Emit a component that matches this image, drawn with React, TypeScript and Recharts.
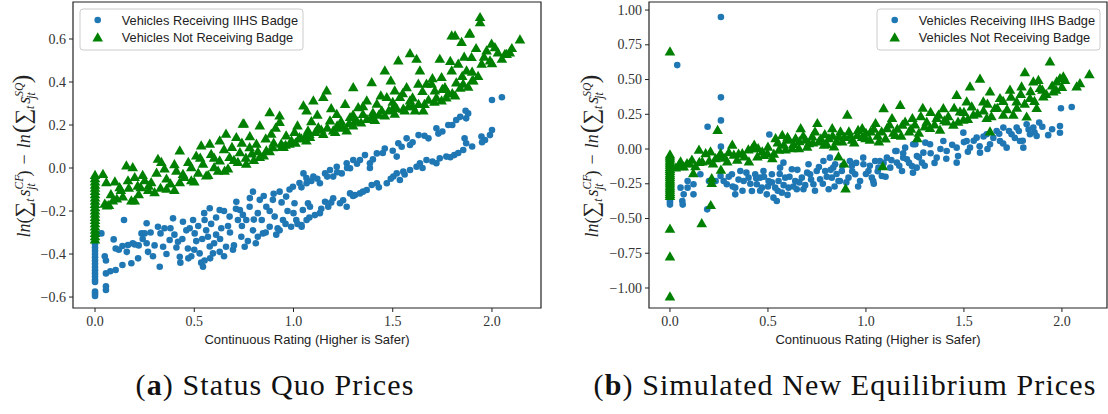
import React from 'react';
import { ScatterChart, Scatter, XAxis, YAxis, ReferenceArea } from 'recharts';

type Pt = [number, number];

const BLUE = '#1f77b4';
const GREEN = '#008000';

const X_TICKS = [0, 0.5, 1, 1.5, 2];
const LEFT_Y_TICKS = [-0.6, -0.4, -0.2, 0, 0.2, 0.4, 0.6];
const RIGHT_Y_TICKS = [-1, -0.75, -0.5, -0.25, 0, 0.25, 0.5, 0.75, 1];

const SERIES_NAMES = ['Vehicles Receiving IIHS Badge', 'Vehicles Not Receiving Badge'];
const X_LABEL = 'Continuous Rating (Higher is Safer)';

// (a) status quo prices
const LEFT_BADGE: Pt[] = [
  [0, -0.33], [0, -0.34], [0, -0.355], [0, -0.37], [0, -0.385], [0, -0.4], [0, -0.415], [0, -0.43], [0, -0.445],
  [0, -0.46], [0, -0.475], [0, -0.49], [0, -0.505], [0, -0.52], [0, -0.53], [0, -0.575], [0, -0.585], [0, -0.595],
  [0.032, -0.304], [0.049, -0.41], [0.055, -0.43], [0.055, -0.49], [0.077, -0.48], [0.104, -0.474], [0.055, -0.567],
  [0.055, -0.55], [0.094, -0.332], [0.104, -0.374], [0.146, -0.242], [0.138, -0.363], [0.138, -0.451], [0.166, -0.358],
  [0.183, -0.443], [0.19, -0.35], [0.2, -0.356], [0.217, -0.42], [0.234, -0.304], [0.25, -0.304], [0.26, -0.257],
  [0.26, -0.35], [0.267, -0.39], [0.292, -0.41], [0.317, -0.273], [0.326, -0.459], [0.33, -0.304], [0.343, -0.366],
  [0.35, -0.28], [0.376, -0.335], [0.393, -0.234], [0.418, -0.343], [0.427, -0.413], [0.43, -0.44], [0.443, -0.25],
  [0.468, -0.374], [0.477, -0.28], [0.485, -0.41], [0.494, -0.242], [0.502, -0.304], [0.51, -0.34], [0.527, -0.397],
  [0.535, -0.44], [0.544, -0.459], [0.552, -0.43], [0.552, -0.242], [0.56, -0.29], [0.569, -0.32], [0.578, -0.187],
  [0.578, -0.365], [0.585, -0.26], [0.594, -0.397], [0.61, -0.31], [0.628, -0.195], [0.628, -0.39], [0.636, -0.28],
  [0.66, -0.366], [0.67, -0.27], [0.678, -0.226], [0.695, -0.38], [0.712, -0.157], [0.72, -0.242], [0.73, -0.195],
  [0.737, -0.32], [0.745, -0.218], [0.754, -0.366], [0.762, -0.242], [0.779, -0.18], [0.796, -0.11], [0.796, -0.29],
  [0.81, -0.35], [0.82, -0.21], [0.83, -0.148], [0.84, -0.242], [0.846, -0.304], [0.863, -0.18], [0.88, -0.273],
  [0.896, -0.148], [0.905, -0.226], [0.913, -0.31], [0.93, -0.11], [0.93, -0.29], [0.947, -0.242], [0.963, -0.133],
  [0.97, -0.2], [0.988, -0.273], [0.997, -0.087], [1.005, -0.164], [1.014, -0.242], [1.03, -0.07], [1.04, -0.265],
  [1.047, -0.195], [1.065, -0.047], [1.073, -0.164],
  [0.12, -0.38], [0.16, -0.39], [0.22, -0.36], [0.24, -0.33], [0.28, -0.3], [0.3, -0.36], [0.36, -0.4], [0.38, -0.28],
  [0.4, -0.31], [0.41, -0.37], [0.44, -0.33], [0.46, -0.29], [0.47, -0.42], [0.5, -0.38], [0.52, -0.27], [0.54, -0.33],
  [0.55, -0.21], [0.58, -0.42], [0.6, -0.35], [0.61, -0.23], [0.63, -0.33], [0.65, -0.2], [0.65, -0.41], [0.68, -0.3],
  [0.7, -0.36], [0.71, -0.19], [0.74, -0.27], [0.77, -0.34], [0.78, -0.14], [0.8, -0.24], [0.82, -0.32], [0.85, -0.13],
  [0.86, -0.3], [0.88, -0.2], [0.9, -0.12], [0.92, -0.28], [0.94, -0.16], [0.96, -0.26], [0.98, -0.1], [1.0, -0.21],
  [1.02, -0.26], [1.04, -0.09],
  [1.05, -0.025], [1.066, -0.071], [1.1, -0.04], [1.133, -0.071], [1.159, -0.025], [1.184, -0.009], [1.2, -0.04],
  [1.218, 0.006], [1.243, -0.025], [1.268, 0.022], [1.285, -0.001], [1.301, 0.037], [1.335, 0.037], [1.36, 0.06],
  [1.385, 0.022], [1.385, 0.0], [1.42, 0.068], [1.46, 0.091], [1.52, 0.053], [1.528, 0.115], [1.545, 0.099],
  [1.57, 0.138], [1.587, 0.107], [1.63, 0.153], [1.68, 0.138], [1.72, 0.185], [1.73, 0.16], [1.78, 0.2],
  [1.82, 0.223], [1.84, 0.238], [1.87, 0.231], [1.88, 0.254], [1.867, 0.266], [2.0, 0.316], [2.05, 0.329],
  [1.09, -0.06], [1.12, -0.05], [1.17, -0.04], [1.22, -0.02], [1.27, 0.0], [1.32, 0.02], [1.4, 0.04], [1.45, 0.07],
  [1.5, 0.08], [1.6, 0.12], [1.66, 0.15], [1.75, 0.17], [1.8, 0.2],
  [1.041, -0.273], [1.066, -0.242], [1.083, -0.18], [1.108, -0.219], [1.133, -0.21], [1.159, -0.157], [1.175, -0.18],
  [1.2, -0.141], [1.234, -0.164], [1.268, -0.18], [1.285, -0.118], [1.31, -0.126], [1.335, -0.118], [1.369, -0.102],
  [1.394, -0.079], [1.42, -0.071], [1.47, -0.071], [1.503, -0.04], [1.52, -0.025], [1.536, -0.056], [1.553, -0.017],
  [1.587, -0.009], [1.62, 0.006], [1.637, 0.022], [1.67, 0.037], [1.72, 0.022], [1.737, 0.045], [1.77, 0.053],
  [1.81, 0.06], [1.855, 0.084], [1.87, 0.115], [1.862, 0.138], [1.947, 0.146], [1.965, 0.13], [1.99, 0.153], [2.0, 0.177],
  [1.08, -0.23], [1.14, -0.19], [1.19, -0.16], [1.25, -0.15], [1.3, -0.13], [1.35, -0.11], [1.43, -0.09], [1.49, -0.05],
  [1.56, -0.03], [1.65, 0.0], [1.7, 0.03], [1.79, 0.05], [1.83, 0.07], [1.9, 0.1], [1.95, 0.12],
];

const LEFT_NO_BADGE: Pt[] = [
  [0, -0.33], [0, -0.315], [0, -0.3], [0, -0.285], [0, -0.27], [0, -0.255], [0, -0.24], [0, -0.225], [0, -0.21],
  [0, -0.195], [0, -0.18], [0, -0.165], [0, -0.15], [0, -0.135], [0, -0.12], [0, -0.105], [0, -0.09], [0, -0.075],
  [0, -0.06], [0, -0.045], [0, -0.03],
  [0.04, -0.025], [0.057, -0.064], [0.049, -0.164], [0.07, -0.17], [0.09, -0.149], [0.11, -0.14], [0.124, -0.087],
  [0.13, -0.1], [0.158, 0.014], [0.166, -0.055], [0.183, -0.149], [0.19, 0.006], [0.2, -0.04], [0.215, -0.08],
  [0.23, -0.087], [0.25, -0.055], [0.268, -0.1], [0.283, -0.064], [0.317, 0.045], [0.334, 0.03], [0.35, 0.0],
  [0.36, -0.047], [0.36, -0.094], [0.41, -0.01], [0.427, 0.084], [0.427, -0.064], [0.443, -0.025], [0.485, 0.006],
  [0.485, -0.055], [0.51, 0.06], [0.535, 0.107], [0.544, 0.022], [0.56, -0.033], [0.578, 0.115], [0.585, 0.068],
  [0.6, 0.006], [0.628, 0.13], [0.628, 0.037], [0.653, -0.01], [0.66, 0.162], [0.678, 0.053], [0.712, 0.146],
  [0.73, 0.076], [0.745, 0.208], [0.762, 0.022], [0.779, 0.099], [0.813, 0.115], [0.83, 0.053], [0.83, 0.2],
  [0.863, 0.084], [0.888, 0.162], [0.896, 0.099], [0.93, 0.216], [0.938, 0.115], [0.963, 0.154], [0.98, 0.115],
  [1.005, 0.17], [1.03, 0.146], [1.065, 0.13], [1.073, 0.177], [0.88, 0.262], [0.75, 0.209], [0.93, 0.246],
  [0.06, -0.172], [0.2, -0.149], [0.7, 0.04], [0.79, 0.07], [0.95, 0.1],
  [0.08, -0.12], [0.1, -0.06], [0.14, -0.13], [0.17, -0.09], [0.22, -0.12], [0.24, -0.03], [0.27, -0.08], [0.3, -0.11],
  [0.31, -0.02], [0.33, -0.09], [0.38, -0.07], [0.4, -0.1], [0.4, 0.02], [0.45, -0.04], [0.47, 0.03], [0.5, -0.06],
  [0.52, -0.02], [0.53, 0.05], [0.57, -0.03], [0.6, 0.05], [0.62, -0.01], [0.65, 0.09], [0.67, 0.0], [0.69, 0.1],
  [0.72, 0.03], [0.74, 0.12], [0.76, 0.05], [0.78, 0.15], [0.8, 0.04], [0.82, 0.08], [0.85, 0.06], [0.86, 0.14],
  [0.88, 0.08], [0.9, 0.12], [0.91, 0.19], [0.94, 0.1], [0.96, 0.11], [0.99, 0.13], [1.01, 0.12], [1.02, 0.2],
  [1.04, 0.14], [1.06, 0.15], [1.08, 0.16], [1.09, 0.22], [1.11, 0.17], [1.12, 0.25], [1.14, 0.18], [1.17, 0.19],
  [1.19, 0.28], [1.22, 0.2], [1.24, 0.22], [1.26, 0.3], [1.28, 0.21], [1.3, 0.25], [1.32, 0.22], [1.35, 0.29],
  [1.37, 0.23], [1.4, 0.26], [1.43, 0.25], [1.44, 0.34], [1.48, 0.27], [1.5, 0.31], [1.52, 0.28], [1.55, 0.35],
  [1.58, 0.29], [1.6, 0.33], [1.63, 0.3], [1.65, 0.36], [1.68, 0.32], [1.7, 0.42], [1.72, 0.33], [1.75, 0.37],
  [1.78, 0.35], [1.79, 0.5], [1.82, 0.4], [1.85, 0.43], [1.86, 0.52], [1.88, 0.38], [1.9, 0.45], [1.92, 0.56],
  [1.93, 0.43], [1.96, 0.52], [2.0, 0.49], [2.03, 0.54], [2.05, 0.51], [2.1, 0.56],
  [1.05, 0.293], [1.066, 0.27], [1.083, 0.146], [1.1, 0.316], [1.125, 0.192], [1.15, 0.332], [1.167, 0.363],
  [1.184, 0.223], [1.2, 0.177], [1.218, 0.254], [1.234, 0.192], [1.268, 0.177], [1.285, 0.239], [1.301, 0.378],
  [1.31, 0.223], [1.326, 0.285], [1.35, 0.254], [1.369, 0.316], [1.394, 0.401], [1.394, 0.239], [1.42, 0.301],
  [1.445, 0.27], [1.46, 0.456], [1.47, 0.332], [1.49, 0.409], [1.503, 0.285], [1.51, 0.363], [1.528, 0.502],
  [1.536, 0.332], [1.553, 0.278], [1.57, 0.378], [1.587, 0.536], [1.587, 0.316], [1.612, 0.27], [1.62, 0.51],
  [1.629, 0.394], [1.637, 0.456], [1.654, 0.27], [1.67, 0.394], [1.696, 0.394], [1.712, 0.363], [1.737, 0.51],
  [1.746, 0.425], [1.746, 0.316], [1.763, 0.378], [1.797, 0.456], [1.814, 0.619], [1.814, 0.34], [1.83, 0.487],
  [1.847, 0.588], [1.855, 0.394], [1.872, 0.456], [1.889, 0.629], [1.897, 0.518], [1.906, 0.409], [1.94, 0.68],
  [1.948, 0.487], [1.973, 0.549], [1.99, 0.502], [1.998, 0.58], [2.015, 0.564], [2.065, 0.533], [2.09, 0.54],
  [2.141, 0.6], [1.94, 0.704], [1.797, 0.619], [1.886, 0.627], [2.074, 0.533],
  [1.15, 0.16], [1.21, 0.17], [1.25, 0.19], [1.3, 0.2], [1.34, 0.214], [1.41, 0.226], [1.46, 0.246], [1.51, 0.255],
  [1.56, 0.27], [1.6, 0.29], [1.66, 0.3], [1.71, 0.31], [1.77, 0.33], [1.8, 0.35], [1.84, 0.375], [1.9, 0.41],
];

// (b) simulated new equilibrium prices
const RIGHT_BADGE: Pt[] = [
  [0, -0.37], [0, -0.385], [0, -0.4],
  [0.037, 0.604], [0.26, 0.95], [0.26, 0.372], [0.26, 0.206], [0.26, 0.017], [0.192, 0.16], [0.507, 0.105],
  [0.054, -0.278], [0.063, -0.374], [0.065, -0.4], [0.07, -0.326], [0.09, -0.23], [0.09, -0.278], [0.12, -0.254],
  [0.12, -0.326], [0.155, -0.182], [0.19, -0.434], [0.199, -0.23], [0.233, -0.23], [0.258, -0.194], [0.274, -0.23],
  [0.29, -0.254], [0.316, -0.182], [0.333, -0.326], [0.333, -0.278], [0.359, -0.158], [0.376, -0.23], [0.401, -0.206],
  [0.418, -0.302], [0.435, -0.182], [0.443, -0.254], [0.46, -0.206], [0.469, -0.278], [0.477, -0.158], [0.494, -0.326],
  [0.503, -0.23], [0.52, -0.182], [0.528, -0.35], [0.537, -0.278], [0.545, -0.374], [0.554, -0.23], [0.562, -0.134],
  [0.571, -0.314], [0.579, -0.098], [0.588, -0.206], [0.605, -0.278], [0.622, -0.146], [0.639, -0.23], [0.647, -0.29],
  [0.673, -0.206], [0.681, -0.29], [0.707, -0.11], [0.715, -0.182], [0.732, -0.254], [0.749, -0.158], [0.766, -0.218],
  [0.783, -0.086], [0.792, -0.158], [0.81, -0.29], [0.826, -0.206], [0.843, -0.11], [0.86, -0.23], [0.877, -0.158],
  [0.911, -0.206], [0.928, -0.122], [0.945, -0.182], [0.97, -0.23], [0.987, -0.11], [1.013, -0.158], [1.03, -0.206],
  [1.047, -0.086], [1.064, -0.134], [1.081, -0.194], [1.107, -0.062], [1.124, -0.134], [1.15, -0.014], [1.158, -0.098],
  [1.184, -0.158], [1.2, 0.01], [1.209, -0.074], [1.235, -0.122], [1.252, 0.034], [1.26, -0.05], [1.286, -0.098],
  [1.303, 0.046], [0.816, -0.062], [0.833, -0.134], [0.867, -0.23], [0.918, -0.086], [0.986, -0.062], [1.037, -0.23],
  [1.071, -0.086], [1.156, -0.014], [1.19, -0.062], [1.241, 0.034], [1.259, -0.134], [1.293, -0.026], [1.327, 0.034],
  [1.361, -0.062], [1.395, 0.058], [1.412, -0.014], [1.463, -0.098], [1.463, 0.01], [1.497, 0.118], [1.514, 0.058],
  [1.531, 0.01], [1.565, 0.082], [1.582, -0.026], [1.616, 0.106], [1.633, 0.034], [1.667, 0.13], [1.684, 0.058],
  [1.701, 0.154], [1.718, 0.01], [1.743, 0.106], [1.769, 0.154], [1.786, 0.058], [1.803, 0.01], [1.82, 0.178],
  [1.837, 0.106], [1.854, 0.154], [1.871, 0.094], [1.884, 0.19], [1.95, 0.142], [1.99, 0.117], [1.99, 0.166],
  [1.995, 0.293], [2.05, 0.302],
  [0.3, -0.2], [0.32, -0.27], [0.35, -0.22], [0.37, -0.3], [0.39, -0.17], [0.41, -0.25], [0.44, -0.21], [0.46, -0.3],
  [0.48, -0.2], [0.5, -0.27], [0.52, -0.24], [0.55, -0.3], [0.56, -0.18], [0.58, -0.26], [0.6, -0.33], [0.61, -0.2],
  [0.63, -0.27], [0.65, -0.15], [0.66, -0.24], [0.69, -0.26], [0.7, -0.17], [0.72, -0.22], [0.74, -0.3], [0.76, -0.13],
  [0.78, -0.25], [0.8, -0.2], [0.82, -0.15], [0.84, -0.27], [0.85, -0.18], [0.88, -0.12], [0.9, -0.24], [0.93, -0.16],
  [0.95, -0.1], [0.96, -0.27], [1.0, -0.18], [1.02, -0.12], [1.04, -0.25], [1.06, -0.16], [1.09, -0.1], [1.1, -0.2],
  [1.13, -0.08], [1.17, -0.12], [1.19, -0.03], [1.22, -0.1], [1.24, -0.17], [1.27, -0.06], [1.3, -0.12], [1.33, -0.03],
  [1.35, -0.1], [1.38, 0.0], [1.41, -0.07], [1.44, 0.03], [1.47, -0.05], [1.5, 0.05], [1.52, -0.02], [1.55, 0.06],
  [1.58, 0.02], [1.6, 0.09], [1.62, 0.0], [1.65, 0.08], [1.68, 0.11], [1.7, 0.04], [1.73, 0.13], [1.76, 0.08],
  [1.78, 0.13], [1.8, 0.06], [1.83, 0.14], [1.86, 0.12], [1.9, 0.16], [1.93, 0.1],
];

const RIGHT_NO_BADGE: Pt[] = [
  [0, -0.335], [0, -0.32], [0, -0.305], [0, -0.29], [0, -0.275], [0, -0.26], [0, -0.245], [0, -0.23], [0, -0.215],
  [0, -0.2], [0, -0.185], [0, -0.17], [0, -0.155], [0, -0.14], [0, -0.125], [0, -0.11], [0, -0.095], [0, -0.08],
  [0, -0.065], [0, -0.05], [0, -0.035],
  [0, 0.705], [0, -0.57], [0, -0.77], [0, -1.058], [0.162, -0.53], [0.208, -0.4], [0.213, -0.206], [0.213, -0.24],
  [0.243, 0.14], [0.26, -0.146], [0.119, -0.17], [0.896, -0.28], [1.086, -0.12], [0.888, -0.1], [0.86, -0.05],
  [0.046, -0.11], [0.054, -0.086], [0.07, -0.122], [0.087, -0.098], [0.112, -0.074], [0.148, -0.002], [0.165, -0.086],
  [0.182, -0.026], [0.207, -0.014], [0.233, -0.062], [0.258, -0.026], [0.292, -0.086], [0.318, 0.034], [0.326, -0.038],
  [0.343, -0.074], [0.369, -0.026], [0.403, -0.086], [0.42, 0.01], [0.43, 0.034], [0.446, -0.05], [0.471, -0.014],
  [0.497, -0.026], [0.522, -0.062], [0.539, 0.082], [0.556, -0.002], [0.573, 0.105], [0.581, 0.034], [0.607, 0.07],
  [0.624, 0.01], [0.641, 0.082], [0.658, 0.01], [0.667, 0.153], [0.692, 0.07], [0.709, 0.046], [0.726, 0.094],
  [0.752, 0.19], [0.76, 0.058], [0.786, 0.034], [0.811, 0.082], [0.828, 0.153], [0.837, 0.022], [0.862, 0.094],
  [0.879, 0.058], [0.905, 0.25], [0.913, 0.13], [0.93, 0.07], [0.956, 0.105], [0.981, 0.153], [0.998, 0.082],
  [1.024, 0.13], [1.049, 0.19], [1.066, 0.058], [1.09, 0.297], [1.107, 0.153], [1.133, 0.226], [1.15, 0.105],
  [1.175, 0.32], [1.186, 0.178], [1.22, 0.13], [1.237, 0.226], [1.262, 0.082], [1.29, 0.3], [1.3, 0.166],
  [1.327, 0.154], [1.361, 0.226], [1.378, 0.142], [1.395, 0.297], [1.412, 0.202], [1.446, 0.178], [1.463, 0.393],
  [1.48, 0.274], [1.497, 0.214], [1.514, 0.346], [1.531, 0.453], [1.548, 0.25], [1.582, 0.509], [1.599, 0.346],
  [1.616, 0.226], [1.633, 0.418], [1.633, 0.13], [1.658, 0.298], [1.684, 0.37], [1.701, 0.25], [1.735, 0.43],
  [1.752, 0.25], [1.769, 0.346], [1.794, 0.453], [1.811, 0.556], [1.82, 0.237], [1.837, 0.37], [1.854, 0.49],
  [1.871, 0.298], [1.888, 0.442], [1.905, 0.382], [1.939, 0.633], [1.956, 0.418], [1.973, 0.49], [1.99, 0.514],
  [2.007, 0.525], [2.016, 0.5], [2.075, 0.453], [2.092, 0.477], [2.14, 0.542],
  [0.03, -0.13], [0.06, -0.12], [0.1, -0.1], [0.13, -0.12], [0.15, -0.09], [0.2, -0.08], [0.22, -0.1], [0.25, -0.05],
  [0.28, -0.06], [0.3, -0.02], [0.35, -0.03], [0.38, -0.05], [0.4, 0.0], [0.45, 0.01], [0.48, -0.04], [0.5, 0.02],
  [0.53, -0.03], [0.55, 0.05], [0.59, 0.0], [0.6, 0.09], [0.63, 0.04], [0.66, 0.06], [0.68, 0.1], [0.7, 0.02],
  [0.73, 0.05], [0.74, 0.13], [0.77, 0.08], [0.79, 0.11], [0.8, 0.04], [0.83, 0.1], [0.85, 0.06], [0.87, 0.13],
  [0.89, 0.09], [0.92, 0.1], [0.94, 0.05], [0.96, 0.14], [0.98, 0.09], [1.0, 0.12], [1.02, 0.07], [1.04, 0.15],
  [1.06, 0.1], [1.08, 0.13], [1.1, 0.08], [1.12, 0.18], [1.14, 0.12], [1.16, 0.15], [1.18, 0.1], [1.2, 0.2],
  [1.23, 0.15], [1.25, 0.18], [1.27, 0.12], [1.28, 0.24], [1.31, 0.2], [1.33, 0.27], [1.35, 0.18], [1.37, 0.25],
  [1.4, 0.21], [1.42, 0.24], [1.45, 0.3], [1.47, 0.2], [1.5, 0.27], [1.52, 0.22], [1.54, 0.31], [1.57, 0.26],
  [1.6, 0.28], [1.62, 0.33], [1.64, 0.24], [1.67, 0.3], [1.7, 0.35], [1.72, 0.29], [1.74, 0.38], [1.77, 0.3],
  [1.79, 0.4], [1.81, 0.33], [1.84, 0.42], [1.86, 0.35], [1.88, 0.5], [1.9, 0.43], [1.92, 0.4], [1.95, 0.46],
  [1.97, 0.43], [2.0, 0.45],
];

const toRows = (pts: Pt[]) => pts.map(([x, y]) => ({ x, y }));

const fmt = (digits: number) => (v: number) => {
  const s = Math.abs(v).toFixed(digits);
  return v < 0 ? `\u2212${s}` : s;
};

const SERIF = 'Liberation Serif, serif';
const SANS = 'Liberation Sans, sans-serif';

const Dot = (props: any) => <circle cx={props.cx} cy={props.cy} r={3.3} fill={BLUE} />;
const Tri = (props: any) => {
  const { cx, cy } = props;
  return <polygon points={`${cx},${cy - 4.7} ${cx - 5.3},${cy + 4.5} ${cx + 5.3},${cy + 4.5}`} fill={GREEN} />;
};

const makeTick = (digits: number, axis: 'x' | 'y') => (props: any) => {
  const { x, y, payload } = props;
  return (
    <text
      x={x}
      y={y}
      dy={axis === 'x' ? '0.75em' : '0.33em'}
      textAnchor={axis === 'x' ? 'middle' : 'end'}
      fontFamily={SERIF}
      fontSize={14}
      fill="#333"
    >
      {fmt(digits)(payload.value)}
    </text>
  );
};

type PanelProps = {
  badge: Pt[];
  noBadge: Pt[];
  xDomain: [number, number];
  yDomain: [number, number];
  yTicks: number[];
  yDigits: number;
  width: number;
  margin: { top: number; right: number; bottom: number; left: number };
};

function Panel({ badge, noBadge, xDomain, yDomain, yTicks, yDigits, width, margin }: PanelProps) {
  return (
    <ScatterChart width={width} height={360} margin={margin}>
      <XAxis
        type="number"
        dataKey="x"
        domain={xDomain}
        ticks={X_TICKS}
        allowDataOverflow
        height={30}
        axisLine={false}
        tickLine={{ stroke: '#222' }}
        tickSize={4}
        tickMargin={3}
        tick={makeTick(1, 'x')}
      />
      <YAxis
        type="number"
        dataKey="y"
        domain={yDomain}
        ticks={yTicks}
        allowDataOverflow
        width={50}
        axisLine={false}
        tickLine={{ stroke: '#222' }}
        tickSize={4}
        tickMargin={3}
        tick={makeTick(yDigits, 'y')}
      />
      <Scatter name={SERIES_NAMES[0]} data={toRows(badge)} shape={Dot} isAnimationActive={false} />
      <Scatter name={SERIES_NAMES[1]} data={toRows(noBadge)} shape={Tri} isAnimationActive={false} />
      <ReferenceArea
        x1={xDomain[0]}
        x2={xDomain[1]}
        y1={yDomain[0]}
        y2={yDomain[1]}
        fill="none"
        stroke="#222"
        strokeWidth={1.2}
        ifOverflow="visible"
      />
    </ScatterChart>
  );
}

function YLabel({ x, y }: { x: number; y: number }) {
  const sub = { fontSize: 11.5, fontStyle: 'italic' as const };
  return (
    <text
      transform={`rotate(-90 ${x} ${y})`}
      x={x}
      y={y}
      textAnchor="middle"
      fontFamily={SERIF}
      fontSize={18}
      fill="#222"
    >
      <tspan fontStyle="italic">ln</tspan>
      <tspan>(</tspan>
      <tspan fontSize={22}>{'\u2211'}</tspan>
      <tspan {...sub} dy={4}>t</tspan>
      <tspan fontStyle="italic" dx={2} dy={-4}>s</tspan>
      <tspan {...sub} dy={-7}>CF</tspan>
      <tspan {...sub} dx={-15} dy={12}>jt</tspan>
      <tspan dx={7} dy={-5}>)</tspan>
      <tspan dx={6}>{'\u2212'}</tspan>
      <tspan fontStyle="italic" dx={6}>ln</tspan>
      <tspan fontSize={26} dx={1}>(</tspan>
      <tspan fontSize={22}>{'\u2211'}</tspan>
      <tspan {...sub} dy={4}>t</tspan>
      <tspan fontStyle="italic" dx={2} dy={-4}>s</tspan>
      <tspan {...sub} dy={-7}>SQ</tspan>
      <tspan {...sub} dx={-16} dy={12}>jt</tspan>
      <tspan fontSize={26} dx={9} dy={-5}>)</tspan>
    </text>
  );
}

function LegendBox({ x }: { x: number }) {
  const mx = x + 17.7;
  const tx = x + 41.7;
  return (
    <g>
      <rect x={x} y={9} width={223} height={41} rx={3} fill="#fff" fillOpacity={0.8} stroke="#ccc" />
      <circle cx={mx} cy={20} r={3.3} fill={BLUE} />
      <polygon points={`${mx},${32.3} ${mx - 5.3},${41.5} ${mx + 5.3},${41.5}`} fill={GREEN} />
      <text x={tx} y={24.6} fontSize={12.8} fontFamily={SANS} fill="#222">
        {SERIES_NAMES[0]}
      </text>
      <text x={tx} y={41.6} fontSize={12.8} fontFamily={SANS} fill="#222">
        {SERIES_NAMES[1]}
      </text>
    </g>
  );
}

export default function App() {
  const captionStyle = { fontFamily: SERIF, fontSize: 30, fill: '#111', letterSpacing: 1.1 };
  return (
    <div style={{ position: 'absolute', left: 0, top: 0, width: 1108, height: 414, background: '#fff' }}>
      <div style={{ position: 'absolute', left: 0, top: 0 }}>
        <Panel
          badge={LEFT_BADGE}
          noBadge={LEFT_NO_BADGE}
          xDomain={[-0.111, 2.247]}
          yDomain={[-0.651, 0.772]}
          yTicks={LEFT_Y_TICKS}
          yDigits={1}
          width={560}
          margin={{ top: 2, right: 19, bottom: 22, left: 23 }}
        />
      </div>
      <div style={{ position: 'absolute', left: 580, top: 0 }}>
        <Panel
          badge={RIGHT_BADGE}
          noBadge={RIGHT_NO_BADGE}
          xDomain={[-0.107, 2.23]}
          yDomain={[-1.144, 1.058]}
          yTicks={RIGHT_Y_TICKS}
          yDigits={2}
          width={528}
          margin={{ top: 2, right: 1, bottom: 22, left: 19 }}
        />
      </div>
      <svg width={1108} height={414} style={{ position: 'absolute', left: 0, top: 0, pointerEvents: 'none' }}>
        <LegendBox x={80} />
        <LegendBox x={877} />
        <YLabel x={30} y={156} />
        <YLabel x={598} y={156} />
        <text x={307} y={344} textAnchor="middle" fontSize={13} fontFamily={SANS} fill="#222">
          {X_LABEL}
        </text>
        <text x={878} y={344} textAnchor="middle" fontSize={13} fontFamily={SANS} fill="#222">
          {X_LABEL}
        </text>
        <text x={275} y={395} textAnchor="middle" style={captionStyle}>
          <tspan>(</tspan>
          <tspan fontWeight="bold">a</tspan>
          <tspan>) Status Quo Prices</tspan>
        </text>
        <text x={845} y={395} textAnchor="middle" style={captionStyle}>
          <tspan>(</tspan>
          <tspan fontWeight="bold">b</tspan>
          <tspan>) Simulated New Equilibrium Prices</tspan>
        </text>
      </svg>
    </div>
  );
}
